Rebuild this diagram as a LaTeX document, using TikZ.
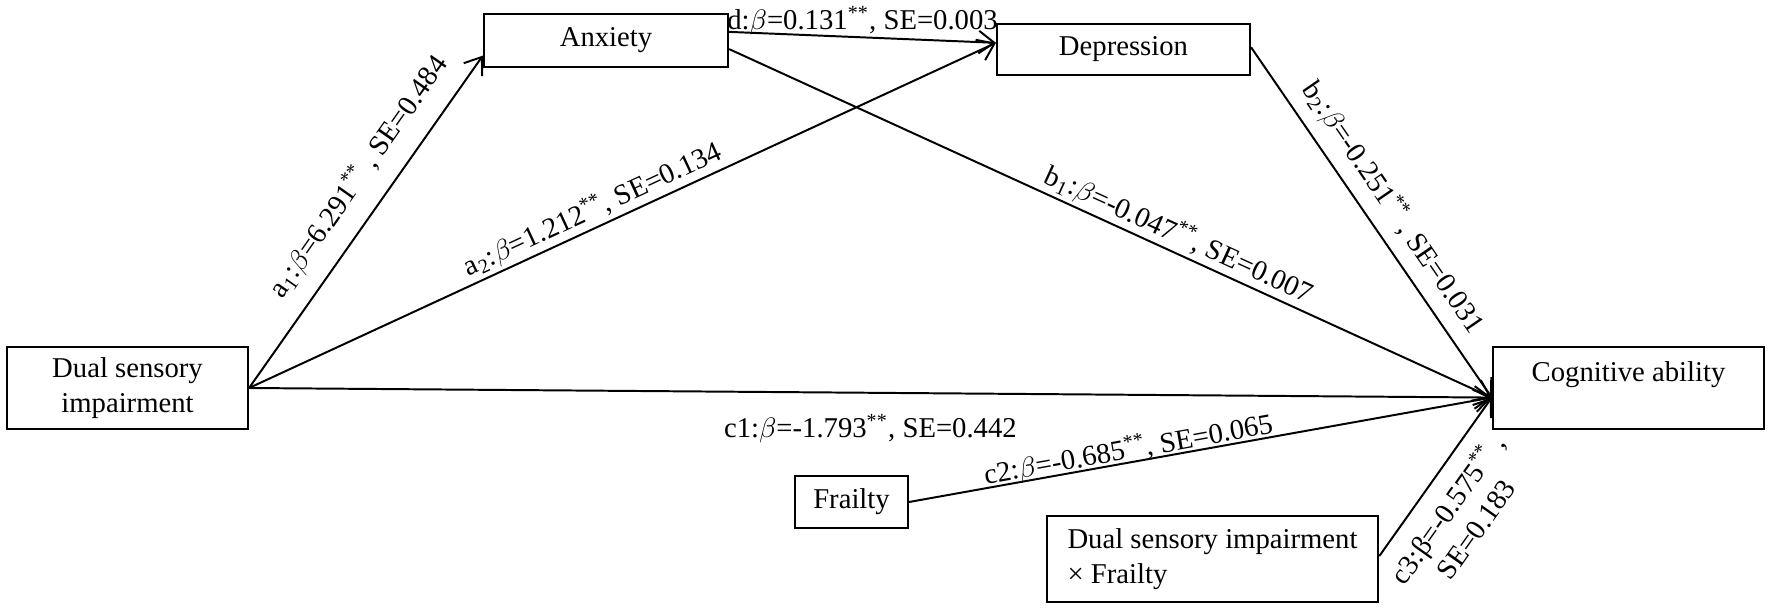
\documentclass[tikz,border=0pt]{standalone}
\usepackage{fontspec}
\setmainfont{Liberation Serif}
\usetikzlibrary{arrows.meta}

\tikzset{
  box/.style={draw, line width=0.8pt, inner sep=2pt, align=center},
  coef/.style={sloped, inner sep=1pt},
}

\begin{document}
\begin{tikzpicture}[x=0.0125cm, y=-0.0125cm, >={Straight Barb[length=5.5pt,width=8pt]}, line width=0.7pt, font=\fontsize{10.2}{12.4}\selectfont]
            \useasboundingbox (0,0) rectangle (1772,610);
            \node[box, minimum width=3.01cm, minimum height=1.025cm] (dsi) at (127.5,388) {Dual sensory\\impairment};
            \node[box, minimum width=3.05cm, minimum height=0.66cm] (anx) at (606,40.5) {Anxiety};
            \node[box, minimum width=3.16cm, minimum height=0.64cm] (dep) at (1123.5,49.5) {Depression};
            \node[box, minimum width=3.39cm, minimum height=1.025cm, text depth=11.4pt] (cog) at (1628.5,388) {Cognitive ability};
            \node[box, minimum width=1.41cm, minimum height=0.65cm] (fra) at (851.5,502) {Frailty};
            \node[box, minimum width=4.14cm, minimum height=1.075cm, align=left] (dxf) at (1212.5,559) {Dual sensory impairment\\× Frailty};
            \draw[->] (dsi.east) -- node[coef, above=5pt, pos=0.58] {a\textsubscript{1}:$\beta$=6.291\textsuperscript{**} , SE=0.484} (anx.187);
            \draw[->] (dsi.east) -- node[coef, above, pos=0.47] {a\textsubscript{2}:$\beta$=1.212\textsuperscript{**}, SE=0.134} (dep.177.5);
            \draw[->] (anx.4) -- node[above=-0.5pt, inner sep=1pt] {d:$\beta$=0.131\textsuperscript{**}, SE=0.003} (dep.177.5);
            \draw[->] (anx.356.5) -- node[coef, above, pos=0.58] {b\textsubscript{1}:$\beta$=-0.047\textsuperscript{**}, SE=0.007} (cog.184);
            \draw[->] (dep.1) -- node[coef, above=3pt, pos=0.5] {b\textsubscript{2}:$\beta$=-0.251\textsuperscript{**} , SE=0.031} (cog.184);
            \draw[->] (dsi.east) -- node[below=4pt] {c1:$\beta$=-1.793\textsuperscript{**}, SE=0.442} (cog.184);
            \draw[->] (fra.east) -- node[coef, above=-2pt, pos=0.38] {c2:$\beta$=-0.685\textsuperscript{**}, SE=0.065} (cog.184);
            \draw[->] (dxf.1) -- node[coef, below=4pt, pos=0.4, align=center] {c3:β=-0.575\textsuperscript{**} ,\\SE=0.183} (cog.184);
        \end{tikzpicture}
\end{document}
